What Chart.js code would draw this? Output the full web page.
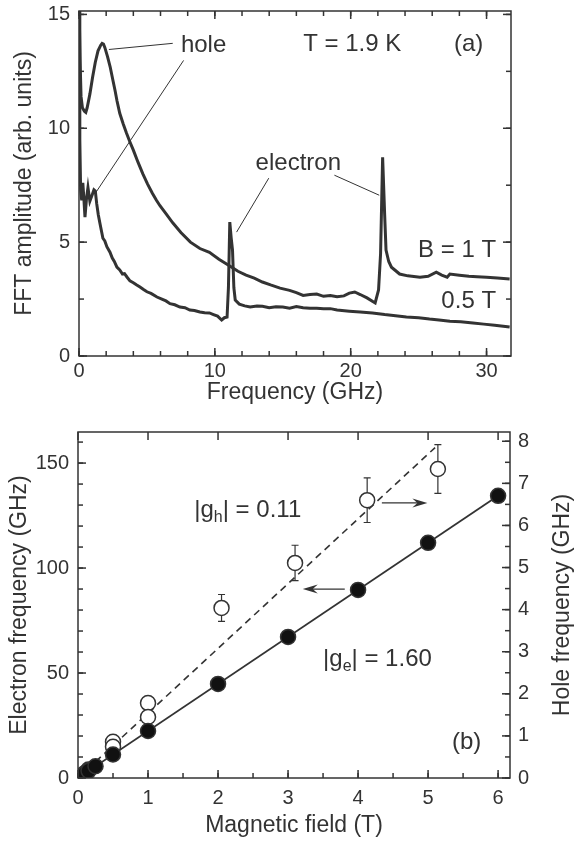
<!DOCTYPE html>
<html><head><meta charset="utf-8">
<script src="https://cdn.jsdelivr.net/npm/chart.js@4.4.1/dist/chart.umd.min.js"></script>
<style>
html,body{margin:0;padding:0;background:#fff;width:575px;height:842px;overflow:hidden}
canvas{position:absolute;left:0}
#ca{top:0}
#cb{top:420px}
</style></head><body>
<canvas id="ca" width="575" height="420"></canvas>
<canvas id="cb" width="575" height="422"></canvas>
<script>
// ---------- Panel (a): FFT spectra ----------
const freqB1 = [0,0.08,0.15,0.25,0.4,0.5,0.6,0.8,1.0,1.2,1.4,1.6,1.7,1.8,1.9,2.1,2.3,2.5,2.65,2.8,3.0,3.25,3.5,3.75,4.0,4.35,4.7,5.05,5.4,5.7,5.96,6.4,6.9,7.5,8.2,8.9,9.6,10.3,11.1,11.7,12.3,12.9,13.5,14.1,14.8,15.5,16.0,16.5,17.0,17.5,18.0,18.5,19.0,19.5,19.9,20.3,20.7,21.2,21.8,22.05,22.2,22.35,22.5,22.6,22.8,23.0,23.6,24.2,25.1,25.7,26.3,26.7,27.1,27.3,28.0,28.7,29.3,30.0,30.8,31.7];
const ampB1 = [15.5,13.0,11.4,10.9,10.75,10.7,10.9,11.5,12.24,12.9,13.4,13.65,13.73,13.7,13.55,13.15,12.68,12.1,11.67,11.2,10.66,10.2,9.78,9.4,9.04,8.5,8.0,7.55,7.15,6.84,6.6,6.25,5.85,5.42,5.0,4.72,4.55,4.25,3.95,3.72,3.55,3.42,3.25,3.12,2.98,2.88,2.78,2.66,2.7,2.72,2.62,2.66,2.6,2.64,2.76,2.81,2.7,2.55,2.33,2.9,4.5,8.73,6.2,4.65,4.15,3.9,3.6,3.52,3.46,3.5,3.68,3.55,3.46,3.6,3.55,3.5,3.48,3.46,3.42,3.38];
const freqB05 = [0,0.06,0.12,0.2,0.28,0.35,0.44,0.55,0.66,0.8,0.96,1.1,1.2,1.3,1.42,1.54,1.65,1.76,1.9,2.05,2.28,2.45,2.6,2.79,3.0,3.2,3.35,3.53,3.75,4.0,4.25,4.49,4.75,5.0,5.3,5.74,6.1,6.4,6.7,7.05,7.43,7.8,8.16,8.5,8.9,9.25,9.6,9.9,10.2,10.5,10.7,10.9,11.0,11.1,11.2,11.3,11.4,11.5,11.8,12.2,12.6,13.1,13.5,14.0,14.5,15.0,15.5,16.0,16.5,17.0,17.5,18.0,18.5,19.0,19.9,20.7,21.6,22.5,23.3,24.1,25.0,25.8,26.5,27.3,28.1,29.0,29.8,30.6,31.7];
const ampB05 = [15.5,9.5,7.3,6.84,7.6,7.0,6.1,6.9,7.4,6.8,7.06,7.3,7.25,6.7,6.2,5.83,5.5,5.17,5.05,4.8,4.56,4.3,4.15,3.9,3.78,3.6,3.62,3.47,3.3,3.22,3.12,3.03,2.92,2.82,2.75,2.59,2.5,2.42,2.3,2.25,2.15,2.12,2.02,2.0,1.93,1.9,1.89,1.82,1.75,1.58,1.68,1.71,3.0,5.88,5.2,4.65,3.0,2.46,2.28,2.2,2.15,2.2,2.18,2.12,2.16,2.15,2.1,2.17,2.12,2.1,2.1,2.07,2.08,2.02,1.97,1.93,1.89,1.82,1.77,1.71,1.68,1.62,1.58,1.53,1.5,1.45,1.4,1.35,1.27];
const freqTicks = [0,10,20,30];
const ampTicks = [0,5,10,15];

// ---------- Panel (b): Zeeman splitting ----------
const fieldE = [0.05,0.1,0.15,0.25,0.5,1,2,3,4,5,6];
const freqE  = [1.1,2.2,3.4,5.6,11.2,22.4,44.8,67.2,89.6,112,134.4];
const fieldH = [0.05,0.1,0.15,0.5,0.5,1,1,2.05,3.1,4.13,5.14];
const freqH  = [0.06,0.12,0.2,0.86,0.74,1.78,1.45,4.04,5.11,6.6,7.34];
const errH   = [0.05,0.05,0.05,0.12,0.12,0.1,0.1,0.32,0.42,0.53,0.58];
const fitEField = [0,6];
const fitEFreq  = [0,134.4];
const fitHField = [0,5.1];
const fitHFreq  = [0,7.85];
const fieldTicks = [0,1,2,3,4,5,6];
const elecTicks  = [0,50,100,150];
const holeTicks  = [0,1,2,3,4,5,6,7,8];

// ---------- style ----------
const INK = '#333333';
const FAM = "'Liberation Sans', Arial, Helvetica, sans-serif";
const tickFont = {family: FAM, size: 20};
const titleFont = {family: FAM, size: 23};
const range = (a, b, s) => { const r = []; for (let v = a; v <= b + 1e-9; v += s) r.push(+v.toFixed(4)); return r; };
const pts = (xs, ys) => xs.map((x, i) => ({x, y: ys[i]}));

const frameTicks = {
  id: 'frameTicks',
  afterDatasetsDraw(chart, args, opts) {
    const ctx = chart.ctx, a = chart.chartArea;
    ctx.save();
    ctx.strokeStyle = INK; ctx.lineWidth = 1.5;
    ctx.strokeRect(a.left, a.top, a.right - a.left, a.bottom - a.top);
    opts.marks.forEach(m => {
      const s = chart.scales[m.scale];
      m.values.forEach(v => {
        const p = s.getPixelForValue(v);
        ctx.beginPath();
        if (m.side === 'bottom') { ctx.moveTo(p, a.bottom); ctx.lineTo(p, a.bottom - m.len); }
        if (m.side === 'top') { ctx.moveTo(p, a.top); ctx.lineTo(p, a.top + m.len); }
        if (m.side === 'left') { ctx.moveTo(a.left, p); ctx.lineTo(a.left + m.len, p); }
        if (m.side === 'right') { ctx.moveTo(a.right, p); ctx.lineTo(a.right - m.len, p); }
        ctx.stroke();
      });
    });
    ctx.restore();
  }
};

const notes = {
  id: 'notes',
  afterDatasetsDraw(chart, args, opts) {
    const ctx = chart.ctx;
    const X = v => chart.scales.x.getPixelForValue(v);
    const Y = (v, ax) => chart.scales[ax || 'y'].getPixelForValue(v);
    ctx.save();
    ctx.strokeStyle = INK; ctx.fillStyle = INK; ctx.lineWidth = 1;
    (opts.lines || []).forEach(l => {
      ctx.beginPath(); ctx.moveTo(X(l[0]), Y(l[1])); ctx.lineTo(X(l[2]), Y(l[3])); ctx.stroke();
    });
    (opts.arrows || []).forEach(r => {
      const x0 = X(r.from), x1 = X(r.to), y = Y(r.y);
      const dir = Math.sign(x1 - x0);
      ctx.lineWidth = 1.3;
      ctx.beginPath(); ctx.moveTo(x0, y); ctx.lineTo(x1 - dir * 4, y); ctx.stroke();
      ctx.beginPath();
      ctx.moveTo(x1, y);
      ctx.lineTo(x1 - dir * 15, y - 4.5);
      ctx.lineTo(x1 - dir * 10, y);
      ctx.lineTo(x1 - dir * 15, y + 4.5);
      ctx.closePath(); ctx.fill();
    });
    ctx.textBaseline = 'alphabetic';
    (opts.texts || []).forEach(t => {
      ctx.textAlign = t.align || 'left';
      let x = X(t.x); const y = Y(t.y);
      if (t.sub) {
        ctx.textAlign = 'left';
        ctx.font = `24px ${FAM}`; ctx.fillText('|g', x, y); x += ctx.measureText('|g').width;
        ctx.font = `16px ${FAM}`; ctx.fillText(t.sub, x, y + 5); x += ctx.measureText(t.sub).width;
        ctx.font = `24px ${FAM}`; ctx.fillText(t.text, x, y);
      } else {
        ctx.font = `24px ${FAM}`; ctx.fillText(t.text, x, y);
      }
    });
    if (opts.rightTitle) {
      const a = chart.chartArea;
      ctx.font = `23px ${FAM}`; ctx.textAlign = 'center';
      ctx.translate(opts.rightTitle.x, (a.top + a.bottom) / 2);
      ctx.rotate(-Math.PI / 2);
      ctx.fillText(opts.rightTitle.text, 0, 0);
    }
    ctx.restore();
  }
};

const errorBars = {
  id: 'errorBars',
  beforeDatasetsDraw(chart, args, opts) {
    const ctx = chart.ctx, xs = chart.scales.x, ys = chart.scales[opts.axis];
    ctx.save(); ctx.strokeStyle = INK; ctx.lineWidth = 1.2;
    opts.x.forEach((b, i) => {
      const px = xs.getPixelForValue(b);
      const lo = ys.getPixelForValue(opts.y[i] - opts.err[i]);
      const hi = ys.getPixelForValue(opts.y[i] + opts.err[i]);
      ctx.beginPath();
      ctx.moveTo(px, lo); ctx.lineTo(px, hi);
      ctx.moveTo(px - 3.5, lo); ctx.lineTo(px + 3.5, lo);
      ctx.moveTo(px - 3.5, hi); ctx.lineTo(px + 3.5, hi);
      ctx.stroke();
    });
    ctx.restore();
  }
};

function axisCfg(extra) {
  return Object.assign({
    type: 'linear',
    grid: {display: false, drawTicks: false},
    border: {display: false},
  }, extra);
}
function fitV(w) { return s => { s.width = w; s.paddingTop = 0; s.paddingBottom = 0; }; }
function fitH(h) { return s => { s.height = h; s.paddingLeft = 0; s.paddingRight = 0; }; }

// ---------- chart (a) ----------
new Chart(document.getElementById('ca'), {
  type: 'scatter',
  data: {
    datasets: [
      {label: 'B = 1 T', data: pts(freqB1, ampB1), showLine: true, borderColor: INK, borderWidth: 3, pointRadius: 0, tension: 0},
      {label: '0.5 T', data: pts(freqB05, ampB05), showLine: true, borderColor: INK, borderWidth: 3, pointRadius: 0, tension: 0}
    ]
  },
  options: {
    responsive: false, animation: false, devicePixelRatio: 1,
    layout: {padding: {left: 0, right: 64, top: 11, bottom: 0}},
    plugins: {
      legend: {display: false}, tooltip: {enabled: false},
      frameTicks: {marks: [
        {scale: 'x', side: 'bottom', values: freqTicks, len: 8},
        {scale: 'x', side: 'bottom', values: range(0, 31.8, 2), len: 5},
        {scale: 'x', side: 'top', values: freqTicks, len: 8},
        {scale: 'x', side: 'top', values: range(0, 31.8, 2), len: 5},
        {scale: 'y', side: 'left', values: ampTicks, len: 8},
        {scale: 'y', side: 'left', values: range(0, 15, 2.5), len: 5},
        {scale: 'y', side: 'right', values: ampTicks, len: 8},
        {scale: 'y', side: 'right', values: range(0, 15, 2.5), len: 5}
      ]},
      notes: {
        lines: [[2.2, 13.46, 6.9, 13.73], [7.7, 12.98, 1.25, 7.19], [13.97, 7.81, 11.6, 5.44], [18.8, 7.94, 22.1, 7.06]],
        texts: [
          {text: 'hole', x: 7.5, y: 13.33},
          {text: 'T = 1.9 K', x: 16.5, y: 13.38},
          {text: '(a)', x: 27.6, y: 13.38},
          {text: 'electron', x: 13.0, y: 8.16},
          {text: 'B = 1 T', x: 30.7, y: 4.34, align: 'right'},
          {text: '0.5 T', x: 30.7, y: 2.1, align: 'right'}
        ]
      }
    },
    scales: {
      x: axisCfg({min: 0, max: 31.8, position: 'bottom',
        afterFit: fitH(64),
        afterBuildTicks(s) { s.ticks = freqTicks.map(v => ({value: v})); },
        ticks: {autoSkip: false, maxRotation: 0, padding: 3, font: tickFont, color: INK},
        title: {display: true, text: 'Frequency (GHz)', font: titleFont, color: INK, padding: {top: 0, bottom: 14}}
      }),
      y: axisCfg({min: 0, max: 15.15, position: 'left',
        afterFit: fitV(79),
        afterBuildTicks(s) { s.ticks = ampTicks.map(v => ({value: v})); },
        ticks: {autoSkip: false, padding: 9, font: tickFont, color: INK},
        title: {display: true, text: 'FFT amplitude (arb. units)', font: titleFont, color: INK, padding: {top: 11, bottom: 0}}
      })
    }
  },
  plugins: [frameTicks, notes]
});

// ---------- chart (b) ----------
new Chart(document.getElementById('cb'), {
  type: 'scatter',
  data: {
    datasets: [
      {label: 'hole fit', data: pts(fitHField, fitHFreq), yAxisID: 'y2', showLine: true, borderColor: INK, borderWidth: 1.6, borderDash: [7, 5], pointRadius: 0, order: 4},
      {label: 'electron fit', data: pts(fitEField, fitEFreq), yAxisID: 'y', showLine: true, borderColor: INK, borderWidth: 1.8, pointRadius: 0, order: 3},
      {label: 'hole', data: pts(fieldH, freqH), yAxisID: 'y2', pointRadius: 7.5, pointBackgroundColor: '#ffffff', pointBorderColor: INK, pointBorderWidth: 1.5, order: 2},
      {label: 'electron', data: pts(fieldE, freqE), yAxisID: 'y', pointRadius: 7.5, pointBackgroundColor: '#111111', pointBorderColor: '#333333', pointBorderWidth: 1.5, order: 1}
    ]
  },
  options: {
    responsive: false, animation: false, devicePixelRatio: 1,
    layout: {padding: {left: 0, right: 0, top: 12, bottom: 0}},
    plugins: {
      legend: {display: false}, tooltip: {enabled: false},
      errorBars: {axis: 'y2', x: fieldH, y: freqH, err: errH},
      frameTicks: {marks: [
        {scale: 'x', side: 'bottom', values: fieldTicks, len: 8},
        {scale: 'x', side: 'bottom', values: range(0, 6, 0.5), len: 5},
        {scale: 'x', side: 'top', values: fieldTicks, len: 8},
        {scale: 'y', side: 'left', values: elecTicks, len: 8},
        {scale: 'y', side: 'left', values: range(0, 160, 10), len: 5},
        {scale: 'y2', side: 'right', values: holeTicks, len: 8},
        {scale: 'y2', side: 'right', values: range(0, 8, 0.5), len: 5}
      ]},
      notes: {
        arrows: [{from: 3.81, to: 3.21, y: 90}, {from: 4.34, to: 4.99, y: 131}],
        texts: [
          {text: '| = 0.11', sub: 'h', x: 1.66, y: 124.3},
          {text: '| = 1.60', sub: 'e', x: 3.5, y: 53.3},
          {text: '(b)', x: 5.34, y: 13.8}
        ],
        rightTitle: {text: 'Hole frequency (GHz)', x: 569}
      }
    },
    scales: {
      x: axisCfg({min: 0, max: 6.17, position: 'bottom',
        afterFit: fitH(64),
        afterBuildTicks(s) { s.ticks = fieldTicks.map(v => ({value: v})); },
        ticks: {autoSkip: false, maxRotation: 0, padding: 8, font: tickFont, color: INK},
        title: {display: true, text: 'Magnetic field (T)', font: titleFont, color: INK, padding: {top: 0, bottom: 3}}
      }),
      y: axisCfg({min: 0, max: 164.8, position: 'left',
        afterFit: fitV(78),
        afterBuildTicks(s) { s.ticks = elecTicks.map(v => ({value: v})); },
        ticks: {autoSkip: false, padding: 9, font: tickFont, color: INK},
        title: {display: true, text: 'Electron frequency (GHz)', font: titleFont, color: INK, padding: {top: 6, bottom: 0}}
      }),
      y2: axisCfg({min: 0, max: 8.22, position: 'right',
        afterFit: fitV(65),
        afterBuildTicks(s) { s.ticks = holeTicks.map(v => ({value: v})); },
        ticks: {autoSkip: false, padding: 8, font: tickFont, color: INK},
        title: {display: false}
      })
    }
  },
  plugins: [errorBars, frameTicks, notes]
});
</script>
</body></html>
